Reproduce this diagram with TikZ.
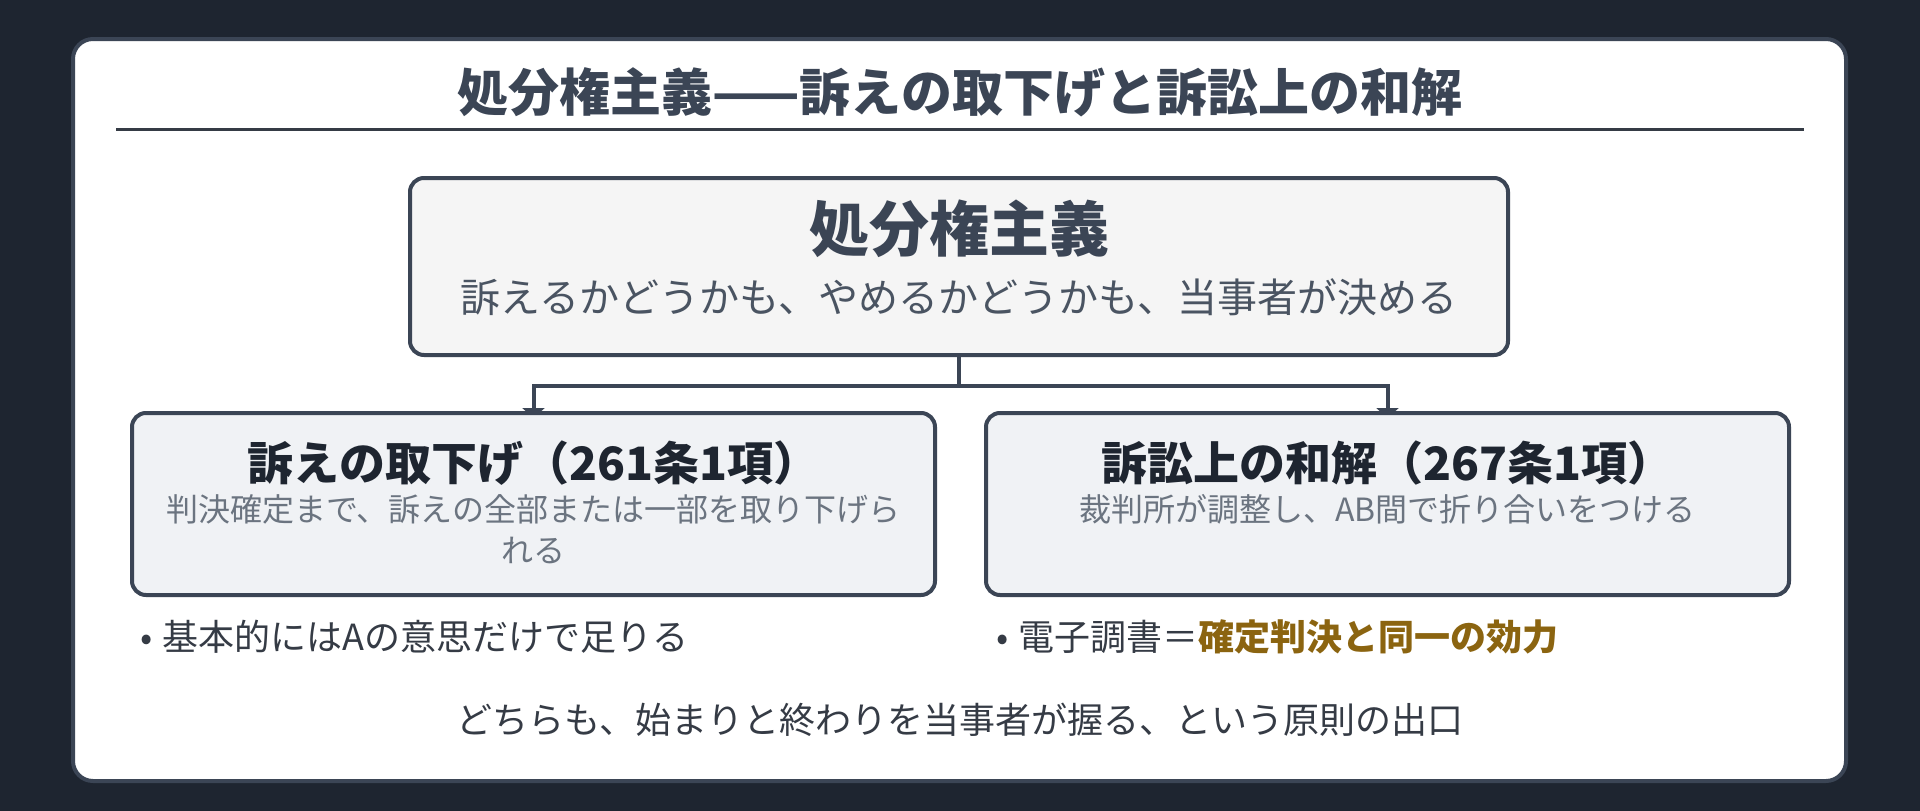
\documentclass[tikz,border=0pt]{standalone}
\usepackage{xcolor}
\usepackage{fontspec}
\setmainfont{Noto Sans CJK JP}
\usetikzlibrary{arrows.meta,positioning,calc}

\definecolor{pagebg}{HTML}{1E2530}
\definecolor{slate}{HTML}{3B4555}
\definecolor{inkdark}{HTML}{1E2530}
\definecolor{inkgray}{HTML}{6B7480}
\definecolor{inksub}{HTML}{4A5462}
\definecolor{boxgray}{HTML}{F5F5F5}
\definecolor{boxblue}{HTML}{F0F2F5}
\definecolor{goldtext}{HTML}{8B6410}

\pgfdeclarelayer{back}
\pgfdeclarelayer{background}
\pgfsetlayers{back,background,main}

\begin{document}
\begin{tikzpicture}[x=1pt, y=-1pt,
    panel/.style={rectangle, rounded corners=20pt, draw=slate, fill=white, line width=4pt, minimum width=1773pt, minimum height=742pt},
    principlebox/.style={rectangle, rounded corners=14pt, draw=slate, fill=boxgray, line width=4pt, minimum width=1098pt, minimum height=177pt},
    branch/.style={rectangle, rounded corners=14pt, draw=slate, fill=boxblue, line width=4pt, minimum width=803pt, minimum height=182pt},
    titletext/.style={inner sep=0pt, text=slate, font=\fontsize{51}{61}\selectfont\bfseries},
    headbig/.style={inner sep=0pt, text=slate, font=\fontsize{60}{72}\selectfont\bfseries},
    subtext/.style={inner sep=0pt, text=inksub, font=\fontsize{40}{48}\selectfont},
    branchhead/.style={inner sep=0pt, text=inkdark, font=\fontsize{46}{55}\selectfont\bfseries},
    branchdesc/.style={inner sep=0pt, text=inkgray, align=center, font=\fontsize{32}{41}\selectfont},
    note/.style={inner sep=0pt, anchor=west, text=inkdark!90!white, font=\fontsize{36}{43}\selectfont},
    link/.style={draw=slate, line width=4pt, -{Triangle[length=10pt,width=22pt]}, shorten >=-7pt}
]
    % Page
    \begin{pgfonlayer}{back}
    \fill[pagebg] (0,0) rectangle (1920,811);
    \node[panel] (frame) at (959.5,410) {};
    \end{pgfonlayer}
    \useasboundingbox (0,0) rectangle (1920,811);

    % Title
    \node[titletext] (title) at (960,92) {処分権主義——訴えの取下げと訴訟上の和解};
    \coordinate (ruleL) at (116,129);
    \coordinate (ruleR) at (1804,129);
    \draw[draw=inkdark!90!white, line width=3pt] (ruleL) -- (ruleR);

    % Principle
    \node[principlebox] (principle) at (959,266.5) {};
    \node[headbig] (principlehead) at (959,229) {処分権主義};
    \node[subtext] (principlesub) at (959,297) {訴えるかどうかも、やめるかどうかも、当事者が決める};

    % Branches
    \node[branch] (withdraw) at (533.5,504) {};
    \node[branchhead] (withdrawhead) at (533.5,463) {訴えの取下げ（261条1項）};
    \node[branchdesc] (withdrawdesc) at (533.5,529.5) {判決確定まで、訴えの全部または一部を取り下げら\\れる};

    \node[branch] (settle) at (1387.5,504) {};
    \node[branchhead] (settlehead) at (1387.5,463) {訴訟上の和解（267条1項）};
    \node[branchdesc] (settledesc) at (1387.5,509) {裁判所が調整し、AB間で折り合いをつける};

    % Links
    \begin{pgfonlayer}{background}
    \draw[link] (principle.south) -- ++(0,29) -| (withdraw.north);
    \draw[link] (principle.south) -- ++(0,29) -| (settle.north);
    \end{pgfonlayer}

    % Notes
    \node[note] (withdrawnote) at (140,637) {•\hspace{10pt}基本的にはAの意思だけで足りる};
    \node[note] (settlenote) at (996,637) {•\hspace{10pt}電子調書＝{\bfseries\color{goldtext}確定判決と同一の効力}};

    \node[note, anchor=center] (closing) at (960,720) {どちらも、始まりと終わりを当事者が握る、という原則の出口};
\end{tikzpicture}
\end{document}
